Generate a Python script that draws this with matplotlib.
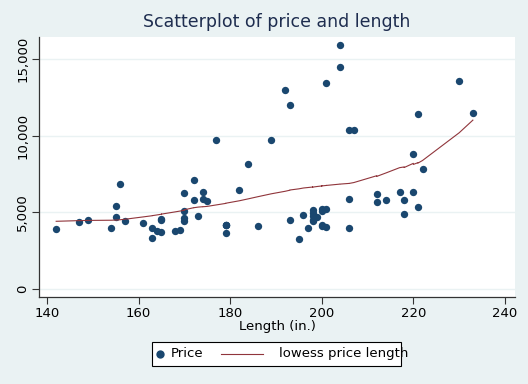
import numpy as np
import matplotlib
matplotlib.use("Agg")
import matplotlib.pyplot as plt
from matplotlib.ticker import FuncFormatter, FixedLocator
from matplotlib.lines import Line2D
from matplotlib.patches import Rectangle

# Auto data: price and length
price = [4099, 4749, 3799, 4816, 7827, 5788, 4453, 5189, 10372, 4082,
         11385, 14500, 15906, 3299, 5705, 4504, 5104, 3667, 3955, 3984,
         4010, 5886, 6342, 4389, 4187, 11497, 13594, 13466, 3829, 5379,
         6165, 4516, 6303, 3291, 8814, 5172, 4733, 4890, 4181, 4195,
         10371, 4647, 4425, 4482, 6486, 4060, 5798, 4934, 5222, 4723,
         4424, 4172, 9690, 6295, 9735, 6229, 4589, 5079, 8129, 4296,
         5799, 4499, 3995, 12990, 3895, 3798, 5899, 3748, 5719, 7140,
         5397, 4697, 6850, 11995]
length = [186, 173, 168, 196, 222, 218, 170, 200, 207, 200,
          221, 204, 204, 163, 212, 193, 200, 179, 197, 163,
          206, 206, 220, 147, 179, 233, 230, 201, 169, 221,
          212, 198, 217, 195, 220, 198, 198, 218, 200, 179,
          206, 170, 157, 165, 182, 201, 214, 198, 201, 199,
          198, 179, 189, 174, 177, 170, 165, 170, 184, 161,
          172, 149, 154, 192, 142, 164, 174, 165, 175, 172,
          155, 155, 156, 193]
x_ticks = [140, 160, 180, 200, 220, 240]
y_ticks = [0, 5000, 10000, 15000]
legend_labels = ["Price", "lowess price length"]
bwidth = 0.8

# Stata-style lowess (tricube weights, local linear, no robustness)
x = np.asarray(length, float)
y = np.asarray(price, float)
order = np.argsort(x, kind="stable")
xs, ys = x[order], y[order]
N = len(xs)
k = int(np.floor((N * bwidth - 0.5) / 2))
smooth = np.empty(N)
for i in range(N):
    lo, hi = max(0, i - k), min(N - 1, i + k)
    xx, yy = xs[lo:hi + 1], ys[lo:hi + 1]
    delta = 1.0001 * max(xs[hi] - xs[i], xs[i] - xs[lo])
    w = (1 - (np.abs(xx - xs[i]) / delta) ** 3) ** 3
    w = np.clip(w, 0, None)
    sw = w.sum()
    mx = (w * xx).sum() / sw
    my = (w * yy).sum() / sw
    sxx = (w * (xx - mx) ** 2).sum()
    b = (w * (xx - mx) * (yy - my)).sum() / sxx if sxx > 0 else 0.0
    smooth[i] = my + b * (xs[i] - mx)

BG = "#eaf2f3"
NAVY = "#1a476f"
MAROON = "#90353b"
W, H = 528, 384

def fx(px):
    return px / W

def fy(py):
    return 1 - py / H

fig = plt.figure(figsize=(5.28, 3.84), dpi=100, facecolor=BG)
ax = fig.add_axes([fx(39), fy(297), (515 - 39) / W, (297 - 37) / H])
ax.set_facecolor("white")

ax.set_xlim(138.25, 242.2)
ax.set_ylim(-522, 16435)

ax.yaxis.set_major_locator(FixedLocator(y_ticks))
ax.xaxis.set_major_locator(FixedLocator(x_ticks))
ax.yaxis.set_major_formatter(FuncFormatter(lambda v, p: f"{int(v):,}"))
ax.grid(axis="y", color=BG, linewidth=1.0)
ax.set_axisbelow(True)

ax.scatter(length, price, s=28, color=NAVY, zorder=3, linewidths=0)
ax.plot(xs, smooth, color=MAROON, linewidth=0.8, zorder=4)

for s in ["top", "right"]:
    ax.spines[s].set_visible(False)
for s in ["left", "bottom"]:
    ax.spines[s].set_color("#333333")
    ax.spines[s].set_linewidth(0.9)

ax.tick_params(axis="both", direction="out", length=5, width=0.8, color="#333333",
               labelsize=9.5, labelcolor="black", pad=2)
for lbl in ax.get_yticklabels():
    lbl.set_rotation(90)
    lbl.set_va("center")

ax.set_xlabel("Length (in.)", fontsize=9.5, labelpad=0)
fig.text(fx(277), fy(22), "Scatterplot of price and length",
         ha="center", va="center", fontsize=12.5, color="#1e2d4f")

# Manual legend box
ly = fy(353.5)
fig.add_artist(Rectangle((fx(151.5), fy(365.5)), (401 - 151.5) / W, (365.5 - 341.5) / H,
                         transform=fig.transFigure, facecolor="white",
                         edgecolor="black", linewidth=0.8))
fig.add_artist(Line2D([fx(160)], [ly], transform=fig.transFigure, marker="o",
                      linestyle="none", color=NAVY, markersize=6, markeredgewidth=0))
fig.text(fx(171), ly, legend_labels[0], ha="left", va="center", fontsize=9.5)
fig.add_artist(Line2D([fx(221), fx(263)], [ly, ly], transform=fig.transFigure,
                      color=MAROON, linewidth=0.8))
fig.text(fx(279), ly, legend_labels[1], ha="left", va="center", fontsize=9.5)

fig.savefig("out.png", dpi=100, facecolor=BG)
